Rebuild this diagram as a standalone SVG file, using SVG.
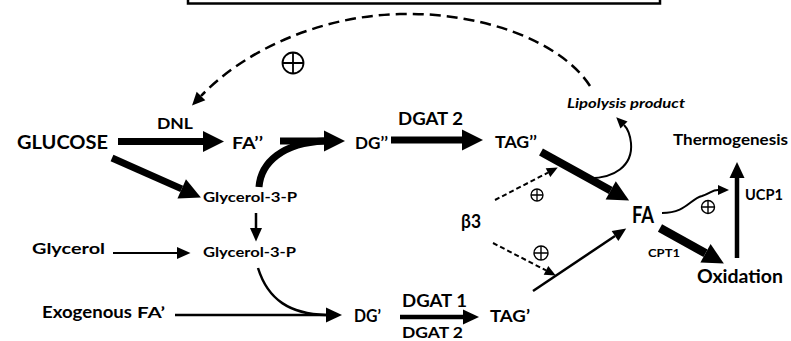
<svg xmlns="http://www.w3.org/2000/svg" width="791" height="341" viewBox="0 0 791 341">
<style>
text{font-family:Lato,"Liberation Sans",sans-serif;font-weight:bold;fill:#000}
.ln{fill:none;stroke:#000}
.op{fill:none;stroke:#000}
</style>
<defs>
<marker id="mA" markerUnits="userSpaceOnUse" orient="auto" refX="0" refY="0" markerWidth="1" markerHeight="1" overflow="visible"><path d="M0,-10.5 L21,0 L0,10.5 Z" fill="#000"/></marker>
<marker id="mB" markerUnits="userSpaceOnUse" orient="auto" refX="0" refY="0" markerWidth="1" markerHeight="1" overflow="visible"><path d="M0,-7.5 L16,0 L0,7.5 Z" fill="#000"/></marker>
<marker id="mC" markerUnits="userSpaceOnUse" orient="auto" refX="0" refY="0" markerWidth="1" markerHeight="1" overflow="visible"><path d="M0,-6 L13.5,0 L0,6 Z" fill="#000"/></marker>
<marker id="mD" markerUnits="userSpaceOnUse" orient="auto" refX="0" refY="0" markerWidth="1" markerHeight="1" overflow="visible"><path d="M0,-5 L11,0 L0,5 Z" fill="#000"/></marker>
<marker id="mE" markerUnits="userSpaceOnUse" orient="auto" refX="0" refY="0" markerWidth="1" markerHeight="1" overflow="visible"><path d="M0,-6 L13,0 L0,6 Z" fill="#000"/></marker>
</defs>

<rect x="188" y="-20" width="472" height="23.5" fill="none" stroke="#000" stroke-width="2.5"/>

<g id="connectors">
<path class="ln" d="M118,141.5 H203" stroke-width="7" marker-end="url(#mA)"/>
<path class="ln" d="M280,141 H324" stroke-width="7" marker-end="url(#mA)"/>
<path class="ln" d="M259,187 C261,162 283,143 324,141" stroke-width="7"/>
<path class="ln" d="M391,140 H462" stroke-width="7" marker-end="url(#mA)"/>
<path class="ln" d="M541,152 L610.7,190.4" stroke-width="8" marker-end="url(#mA)"/>
<path class="ln" d="M660,228 L705.5,253.3" stroke-width="8.5" marker-end="url(#mA)"/>
<path class="ln" d="M737,258 V178" stroke-width="4.5" marker-end="url(#mB)"/>
<path class="ln" d="M112,158 L181.7,188.9" stroke-width="7" marker-end="url(#mA)"/>
<path class="ln" d="M256,213 V228" stroke-width="2.5" marker-end="url(#mC)"/>
<path class="ln" d="M113,253 H177" stroke-width="2" marker-end="url(#mC)"/>
<path class="ln" d="M175,315 H326" stroke-width="2.5" marker-end="url(#mB)"/>
<path class="ln" d="M258,268 C268,300 290,314 326,315" stroke-width="2.5"/>
<path class="ln" d="M400,317 H463" stroke-width="4.5" marker-end="url(#mB)"/>
<path class="ln" d="M533,291 L615,236" stroke-width="2.5" marker-end="url(#mC)"/>
<path class="ln" d="M495,200 L548,172.6" stroke-width="2" stroke-dasharray="5 3" marker-end="url(#mD)"/>
<path class="ln" d="M493,243 L546,270.4" stroke-width="2" stroke-dasharray="5 3" marker-end="url(#mD)"/>
<path class="ln" d="M590,86 C560,40 480,12 400,14 C320,16 245,50 201,96" stroke-width="2.5" stroke-dasharray="11 6" marker-end="url(#mE)"/>
<path class="ln" d="M584,178 C615,180 633,165 631,143 C630,134 628,129 624,125" stroke-width="2" marker-end="url(#mD)"/>
<path class="ln" d="M662,213 C686,213 690,199 702,196 C711,193 712,190 718,190" stroke-width="2" marker-end="url(#mD)"/>
</g>

<g id="plus-top"><circle class="op" cx="293" cy="63" r="10.5" stroke-width="1.8"/><path class="op" d="M282.5,63 H303.5 M293,52.5 V73.5" stroke-width="1.8"/></g>
<g id="plus-b3-up"><circle class="op" cx="537" cy="195" r="6" stroke-width="1.3"/><path class="op" d="M531,195 H543 M537,189 V201" stroke-width="1.3"/></g>
<g id="plus-b3-down"><circle class="op" cx="541" cy="253" r="7" stroke-width="1.4"/><path class="op" d="M534,253 H548 M541,246 V260" stroke-width="1.4"/></g>
<g id="plus-fa"><circle class="op" cx="708" cy="207" r="6.5" stroke-width="1.4"/><path class="op" d="M701.5,207 H714.5 M708,200.5 V213.5" stroke-width="1.4"/></g>

<g id="glucose"><text x="17" y="149" font-size="19" textLength="91" lengthAdjust="spacingAndGlyphs">GLUCOSE</text></g>
<g id="dnl"><text x="157" y="129" font-size="15.5" textLength="36" lengthAdjust="spacingAndGlyphs">DNL</text></g>
<g id="fa2"><text x="232" y="149" font-size="17.5" textLength="31" lengthAdjust="spacingAndGlyphs">FA’’</text></g>
<g id="dg2"><text x="355" y="149" font-size="17.5" textLength="33" lengthAdjust="spacingAndGlyphs">DG’’</text></g>
<g id="dgat2-top"><text x="398" y="125" font-size="16.5" textLength="65" lengthAdjust="spacingAndGlyphs">DGAT 2</text></g>
<g id="tag2"><text x="495" y="148" font-size="17" textLength="42" lengthAdjust="spacingAndGlyphs">TAG’’</text></g>
<g id="lipolysis"><text x="567" y="108" font-size="14" font-style="italic" textLength="118" lengthAdjust="spacingAndGlyphs">Lipolysis product</text></g>
<g id="thermogenesis"><text x="673" y="145" font-size="15.5" textLength="115" lengthAdjust="spacingAndGlyphs">Thermogenesis</text></g>
<g id="ucp1"><text x="745" y="200" font-size="14.5" textLength="38" lengthAdjust="spacingAndGlyphs">UCP1</text></g>
<g id="b3"><text x="461" y="228" font-size="19" textLength="20" lengthAdjust="spacingAndGlyphs">β3</text></g>
<g id="fa"><text x="632" y="223" font-size="22" textLength="22" lengthAdjust="spacingAndGlyphs">FA</text></g>
<g id="cpt1"><text x="648" y="257" font-size="10.5" textLength="32" lengthAdjust="spacingAndGlyphs">CPT1</text></g>
<g id="oxidation"><text x="697" y="283" font-size="19" textLength="86" lengthAdjust="spacingAndGlyphs">Oxidation</text></g>
<g id="g3p-1"><text x="203" y="202" font-size="14" textLength="94" lengthAdjust="spacingAndGlyphs">Glycerol-3-P</text></g>
<g id="glycerol"><text x="32" y="254" font-size="15.5" textLength="73" lengthAdjust="spacingAndGlyphs">Glycerol</text></g>
<g id="g3p-2"><text x="203" y="257" font-size="14" textLength="93" lengthAdjust="spacingAndGlyphs">Glycerol-3-P</text></g>
<g id="exo-fa"><text x="42" y="318" font-size="17" textLength="90" lengthAdjust="spacingAndGlyphs">Exogenous</text><text x="137" y="318" font-size="15" textLength="28" lengthAdjust="spacingAndGlyphs">FA’</text></g>
<g id="dg1"><text x="354" y="322" font-size="16.5" textLength="27" lengthAdjust="spacingAndGlyphs">DG’</text></g>
<g id="dgat1"><text x="402" y="307" font-size="16.5" textLength="65" lengthAdjust="spacingAndGlyphs">DGAT 1</text></g>
<g id="dgat2-bot"><text x="402" y="338" font-size="16" textLength="61" lengthAdjust="spacingAndGlyphs">DGAT 2</text></g>
<g id="tag1"><text x="490" y="322" font-size="17" textLength="40" lengthAdjust="spacingAndGlyphs">TAG’</text></g>
</svg>
